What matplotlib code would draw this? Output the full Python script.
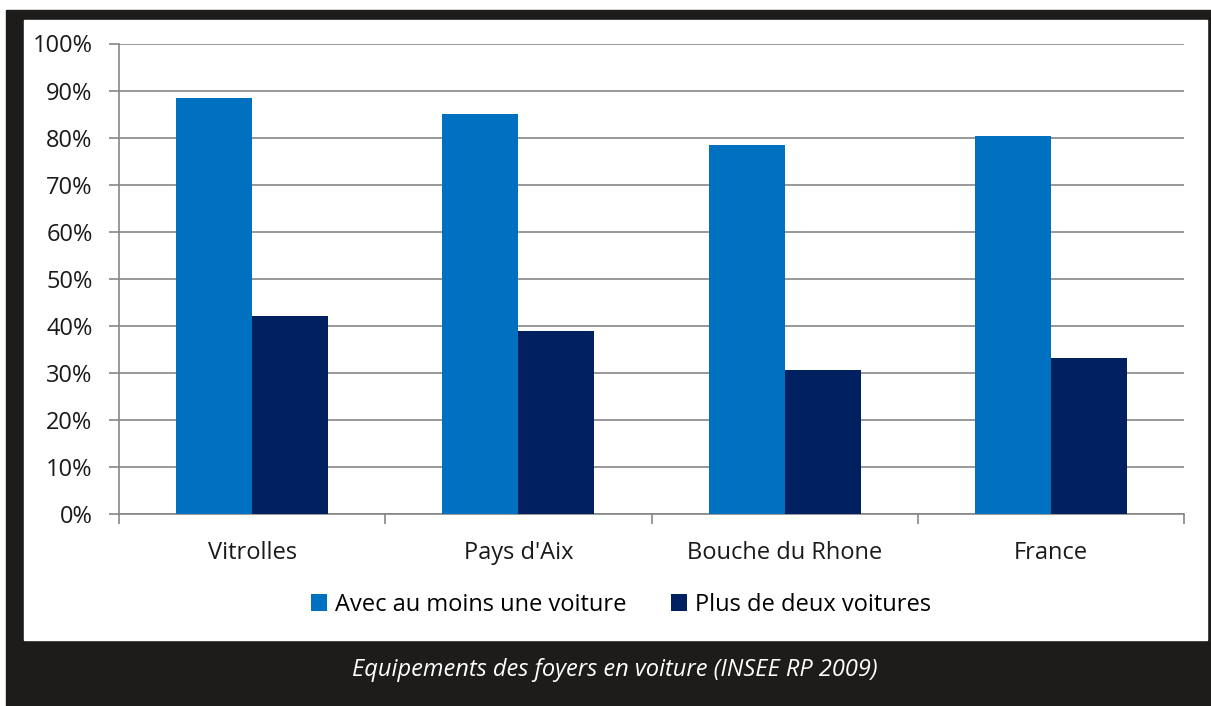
import matplotlib.pyplot as plt
from matplotlib.patches import Rectangle
from matplotlib.ticker import FuncFormatter, FixedLocator
import numpy as np

plt.rcParams['font.family'] = ['Open Sans', 'DejaVu Sans']

categories = ['Vitrolles', "Pays d'Aix", 'Bouche du Rhone', 'France']
au_moins_une = [0.884, 0.850, 0.784, 0.803]
plus_de_deux = [0.422, 0.389, 0.306, 0.333]
series_names = ['Avec au moins une voiture', 'Plus de deux voitures']
colors = ['#0070C0', '#002060']
caption = 'Equipements des foyers en voiture (INSEE RP 2009)'

W, H = 1211, 706
fig = plt.figure(figsize=(W / 100, H / 100), dpi=100)

# cadre sombre + zone blanche (coordonnees en pixels)
def px_rect(x0, y0, x1, y1, color):
    fig.patches.append(Rectangle((x0 / W, 1 - y1 / H), (x1 - x0) / W, (y1 - y0) / H,
                                 transform=fig.transFigure, color=color, zorder=-10))

px_rect(6, 10, W, H, '#1d1c1b')
px_rect(24, 20, 1207, 640, 'white')

ax = fig.add_axes([119 / W, 1 - 514.3 / H, (1184 - 119) / W, (514.3 - 43.5) / H])
ax.set_facecolor('none')

x = np.arange(len(categories))
w = 1 / 3.5
ax.bar(x - w / 2, au_moins_une, w, color=colors[0], label=series_names[0], zorder=3)
ax.bar(x + w / 2, plus_de_deux, w, color=colors[1], label=series_names[1], zorder=3)

grid_c = '#868686'
fs = 17
ax.set_xlim(-0.5, len(categories) - 0.5)
ax.set_ylim(0, 1)
ax.set_yticks(np.arange(0, 1.01, 0.1))
ax.yaxis.set_major_formatter(FuncFormatter(lambda v, p: f'{round(v * 100)}%'))
ax.grid(axis='y', color=grid_c, linewidth=1.2, zorder=0)

ax.set_xticks(x)
ax.set_xticklabels(categories)
ax.xaxis.set_minor_locator(FixedLocator(np.arange(-0.5, len(categories), 1.0)))
ax.tick_params(axis='x', which='major', length=0, pad=19, labelsize=fs, labelcolor='#1a1a1a')
ax.tick_params(axis='x', which='minor', length=7, width=1.2, color=grid_c, direction='out')
ax.tick_params(axis='y', length=7, width=1.2, color=grid_c, pad=12, labelsize=fs, labelcolor='#1a1a1a')

for s in ['top', 'right']:
    ax.spines[s].set_visible(False)
for s in ['left', 'bottom']:
    ax.spines[s].set_color(grid_c)
    ax.spines[s].set_linewidth(1.2)

fig.legend(loc='center', bbox_to_anchor=(621 / W, 1 - 605 / H), ncol=2, frameon=False,
           fontsize=fs, handlelength=0.7, handleheight=0.7, handletextpad=0.35,
           columnspacing=1.85)

fig.text(615 / W, 1 - 670 / H, caption, ha='center', va='center', color='white',
         fontsize=fs, style='italic')

fig.savefig('out.png', dpi=100)
